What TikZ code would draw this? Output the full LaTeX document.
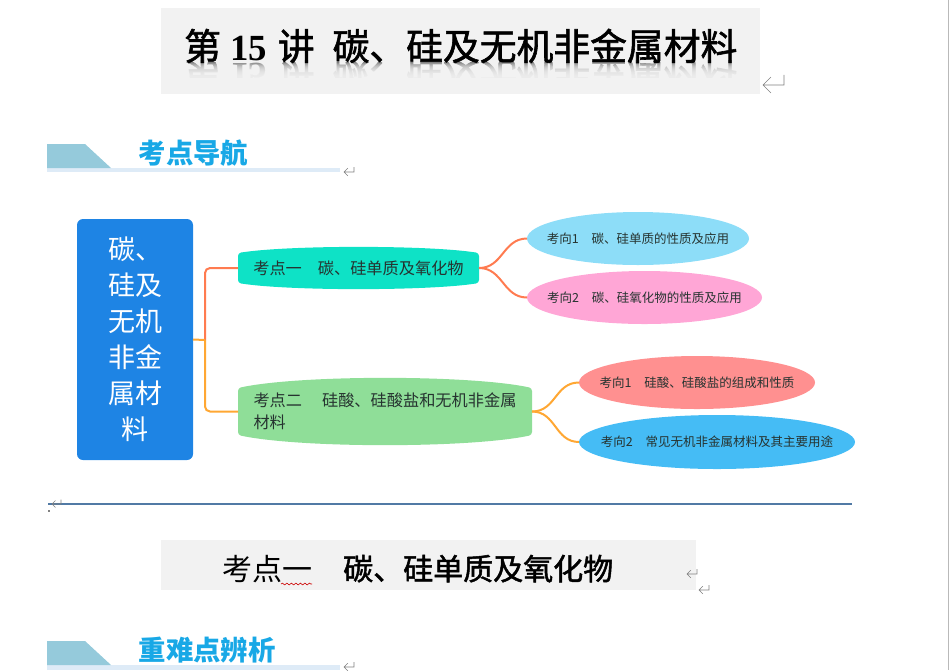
\documentclass[tikz,border=0pt]{standalone}
\usepackage{fontspec}
\setmainfont{Noto Sans CJK SC}
\newfontfamily\ttlfont[FakeBold=1.6]{Noto Sans CJK SC}
\newfontfamily\ttlnum{Liberation Serif}
\usetikzlibrary{shapes.geometric,calc,backgrounds,decorations.pathmorphing}
\definecolor{boxbg}{HTML}{F2F2F2}
\definecolor{headblue}{HTML}{18A8E6}
\definecolor{tabblue}{HTML}{95CADB}
\definecolor{barblue}{HTML}{DEEBF7}
\definecolor{rootblue}{HTML}{1E84E4}
\definecolor{teal}{HTML}{0EE2C6}
\definecolor{leaf}{HTML}{8FDE98}
\definecolor{eone}{HTML}{8DDDF8}
\definecolor{etwo}{HTML}{FFA6D6}
\definecolor{ethree}{HTML}{FF9090}
\definecolor{efour}{HTML}{45BCF5}
\definecolor{lineor}{HTML}{FF7B50}
\definecolor{lineye}{HTML}{FFA733}
\definecolor{rulec}{HTML}{517AA5}
\definecolor{inktext}{HTML}{263330}
\tikzset{
  branch/.style={rounded corners=0pt,inner sep=0pt,outer sep=0pt,text=inktext,font=\fontsize{16.2}{22}\selectfont},
  oval/.style={ellipse,inner sep=0pt,outer sep=0pt,text=inktext,font=\fontsize{12.5}{15}\selectfont},
  conn/.style={line width=2pt},
  retm/.style={draw=gray,line width=.6pt},
  headtxt/.style={anchor=base west,inner sep=0pt,text=headblue,font=\fontsize{27.4}{30}\selectfont\bfseries},
  ttl/.style={anchor=base west,inner sep=0pt,font=\fontsize{36.8}{40}\selectfont},
}
\newcommand\retmk[3]{\draw[retm] (#1+#3,#2-.48*#3) -- (#1+#3,#2) -- (#1,#2) (#1+.38*#3,#2-.38*#3) -- (#1,#2) -- (#1+.38*#3,#2+.38*#3);}
\newcommand\bulged[4]{\fill[#4,rounded corners=3pt] ([yshift=-#2pt]#1.north west) .. controls ($(#1.north)+(-#3,-#2/3)$) and ($(#1.north)+(#3,-#2/3)$) .. ([yshift=-#2pt]#1.north east) -- ([yshift=#2pt]#1.south east) .. controls ($(#1.south)+(#3,#2/3)$) and ($(#1.south)+(-#3,#2/3)$) .. ([yshift=#2pt]#1.south west) -- cycle;}
\newcommand\ttltext{第\hspace{9pt}{\ttlnum\bfseries 15}\hspace{11pt}讲\hspace{18pt}碳、硅及无机非金属材料}
\newcommand\ovaltext[1]{\makebox[0pt][c]{#1}}
\begin{document}
\begin{tikzpicture}[x=1pt,y=-1pt]
\useasboundingbox (0,0) rectangle (949,670);
\draw[gray!55,line width=1pt] (948,0) -- (948,670);
% title
\fill[boxbg] (161,8) rectangle (760,94);
\coordinate (tb) at (184,63);
\begin{scope}
\clip (161,60) rectangle (760,77);
\node[ttl,text=gray,yscale=-1,transform shape] (titlemirror) at (tb) {\ttlfont\ttltext};
\foreach \i in {0,...,13}{\fill[boxbg,opacity=.2] (165,63+\i) rectangle (755,79);}
\end{scope}
\node[ttl] (title) at (184,60) {\ttlfont\ttltext};
\retmk{763}{85}{21}
% heading 1
\fill[barblue] (47,168) rectangle (340,172);
\fill[tabblue] (47,144) -- (85,144) -- (111,168) -- (47,168) -- cycle;
\node[headtxt] (head1) at (138.5,163) {考点导航};
\retmk{344}{172}{10}
% root
\node[fill=rootblue,rounded corners=6pt,minimum width=116pt,minimum height=241pt,inner sep=0pt,outer sep=0pt,text=white,align=center,font=\fontsize{27}{36}\selectfont] (root) at (135,339.5) {碳、\\硅及\\无机\\非金\\属材\\料};
% branches
\node[branch,minimum width=241pt,minimum height=42pt] (k1) at (358.5,268) {考点一\hspace{16pt}碳、硅单质及氧化物};
\node[branch,minimum width=294pt,minimum height=67pt,align=left] (k2) at (385,411.5) {考点二\hspace{20pt}硅酸、硅酸盐和无机非金属\\材料};
\begin{scope}[on background layer]
\bulged{k1}{6}{70}{teal}
\bulged{k2}{10}{85}{leaf}
\end{scope}
% ovals
\node[oval,fill=eone,minimum width=222pt,minimum height=53pt] (e1) at (638,238.5) {\ovaltext{考向1\hspace{13pt}碳、硅单质的性质及应用}};
\node[oval,fill=etwo,minimum width=235pt,minimum height=53pt] (e2) at (644.5,297.5) {\ovaltext{考向2\hspace{13pt}碳、硅氧化物的性质及应用}};
\node[oval,fill=ethree,minimum width=236pt,minimum height=53pt] (e3) at (697,382.5) {\ovaltext{考向1\hspace{13pt}硅酸、硅酸盐的组成和性质}};
\node[oval,fill=efour,minimum width=276pt,minimum height=54pt] (e4) at (717,442) {\ovaltext{考向2\hspace{13pt}常见无机非金属材料及其主要用途}};
% connectors
\coordinate (trunk) at (205,340);
\draw[conn,lineor,rounded corners=5pt] (trunk) |- (k1.west);
\draw[conn,lineye,rounded corners=5pt] (trunk) |- (k2.west);
\draw[conn,lineye] (root.east) -- (trunk);
\draw[conn,lineor] (k1.east) .. controls ($(k1.east)+(24,0)$) and ($(e1.west)+(-24,0)$) .. (e1.west);
\draw[conn,lineor] (k1.east) .. controls ($(k1.east)+(24,0)$) and ($(e2.west)+(-24,0)$) .. (e2.west);
\draw[conn,lineye] (k2.east) .. controls ($(k2.east)+(24,0)$) and ($(e3.west)+(-24,0)$) .. (e3.west);
\draw[conn,lineye] (k2.east) .. controls ($(k2.east)+(24,0)$) and ($(e4.west)+(-24,0)$) .. (e4.west);
% rule
\draw[rulec,line width=1.5pt] (48,504) -- (852,504);
\retmk{52}{504}{9}
\fill[black] (49,511) circle (.9);
% subtitle
\fill[boxbg] (161,540) rectangle (696,590);
\node[anchor=base west,inner sep=0pt,font=\fontsize{30}{32}\selectfont] (sub) at (222,580) {考点一\hspace{31pt}{\ttlfont 碳、硅单质及氧化物}};
\draw[red!80!black,line width=.6pt,decorate,decoration={snake,amplitude=.9pt,segment length=4.5pt}] (281,584) -- (312,584);
\retmk{687}{574}{10}
\retmk{699}{590}{10}
% heading 2
\fill[barblue] (47,665) rectangle (340,670);
\fill[tabblue] (47,641) -- (85,641) -- (111,665) -- (47,665) -- cycle;
\node[headtxt] (head2) at (138.5,660) {重难点辨析};
\retmk{344}{667}{10}
\end{tikzpicture}
\end{document}
